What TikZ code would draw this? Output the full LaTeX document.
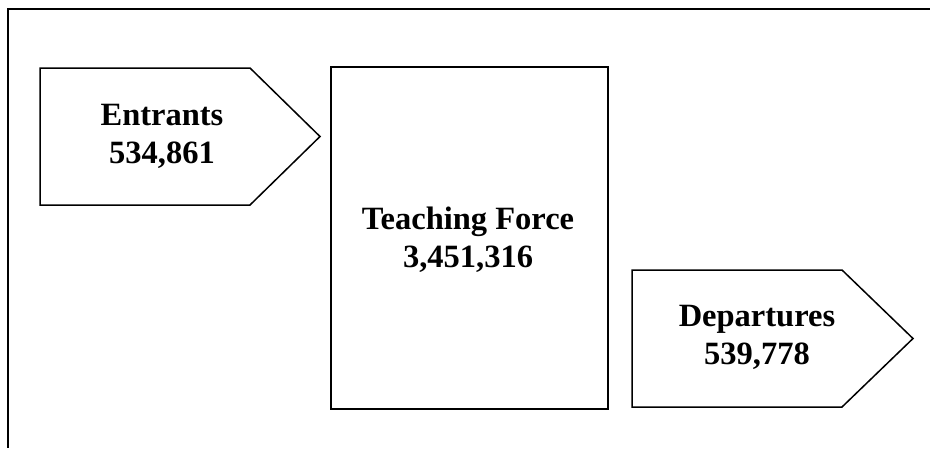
\documentclass[tikz,border=0pt]{standalone}
\usepackage{fontspec}
\setmainfont{Liberation Serif}
\begin{document}
\begin{tikzpicture}[x=1pt,y=-1pt,
  shapeline/.style={draw=black,line width=1.5pt,line join=miter},
  framelabel/.style={align=center,inner sep=0pt,font=\bfseries\fontsize{32.5}{38}\selectfont}]
\useasboundingbox (0,0) rectangle (930,448);
% open outer frame (top and left edges)
\draw[line width=2.5pt] (930,9) -- (8,9) -- (8,448);
% entrants pentagon arrow
\draw[shapeline] (40,68) -- (250,68) -- (320,136.5) -- (250,205) -- (40,205) -- cycle;
\node[framelabel] (entrants) at (162,136) {Entrants\\534,861};
% teaching force box
\draw[shapeline] (331,67) rectangle (608,409);
\node[framelabel] (force) at (468,240) {Teaching Force\\3,451,316};
% departures pentagon arrow
\draw[shapeline] (632,270) -- (842,270) -- (913,338.5) -- (842,407) -- (632,407) -- cycle;
\node[framelabel] (departures) at (757,337) {Departures\\539,778};
\end{tikzpicture}
\end{document}
